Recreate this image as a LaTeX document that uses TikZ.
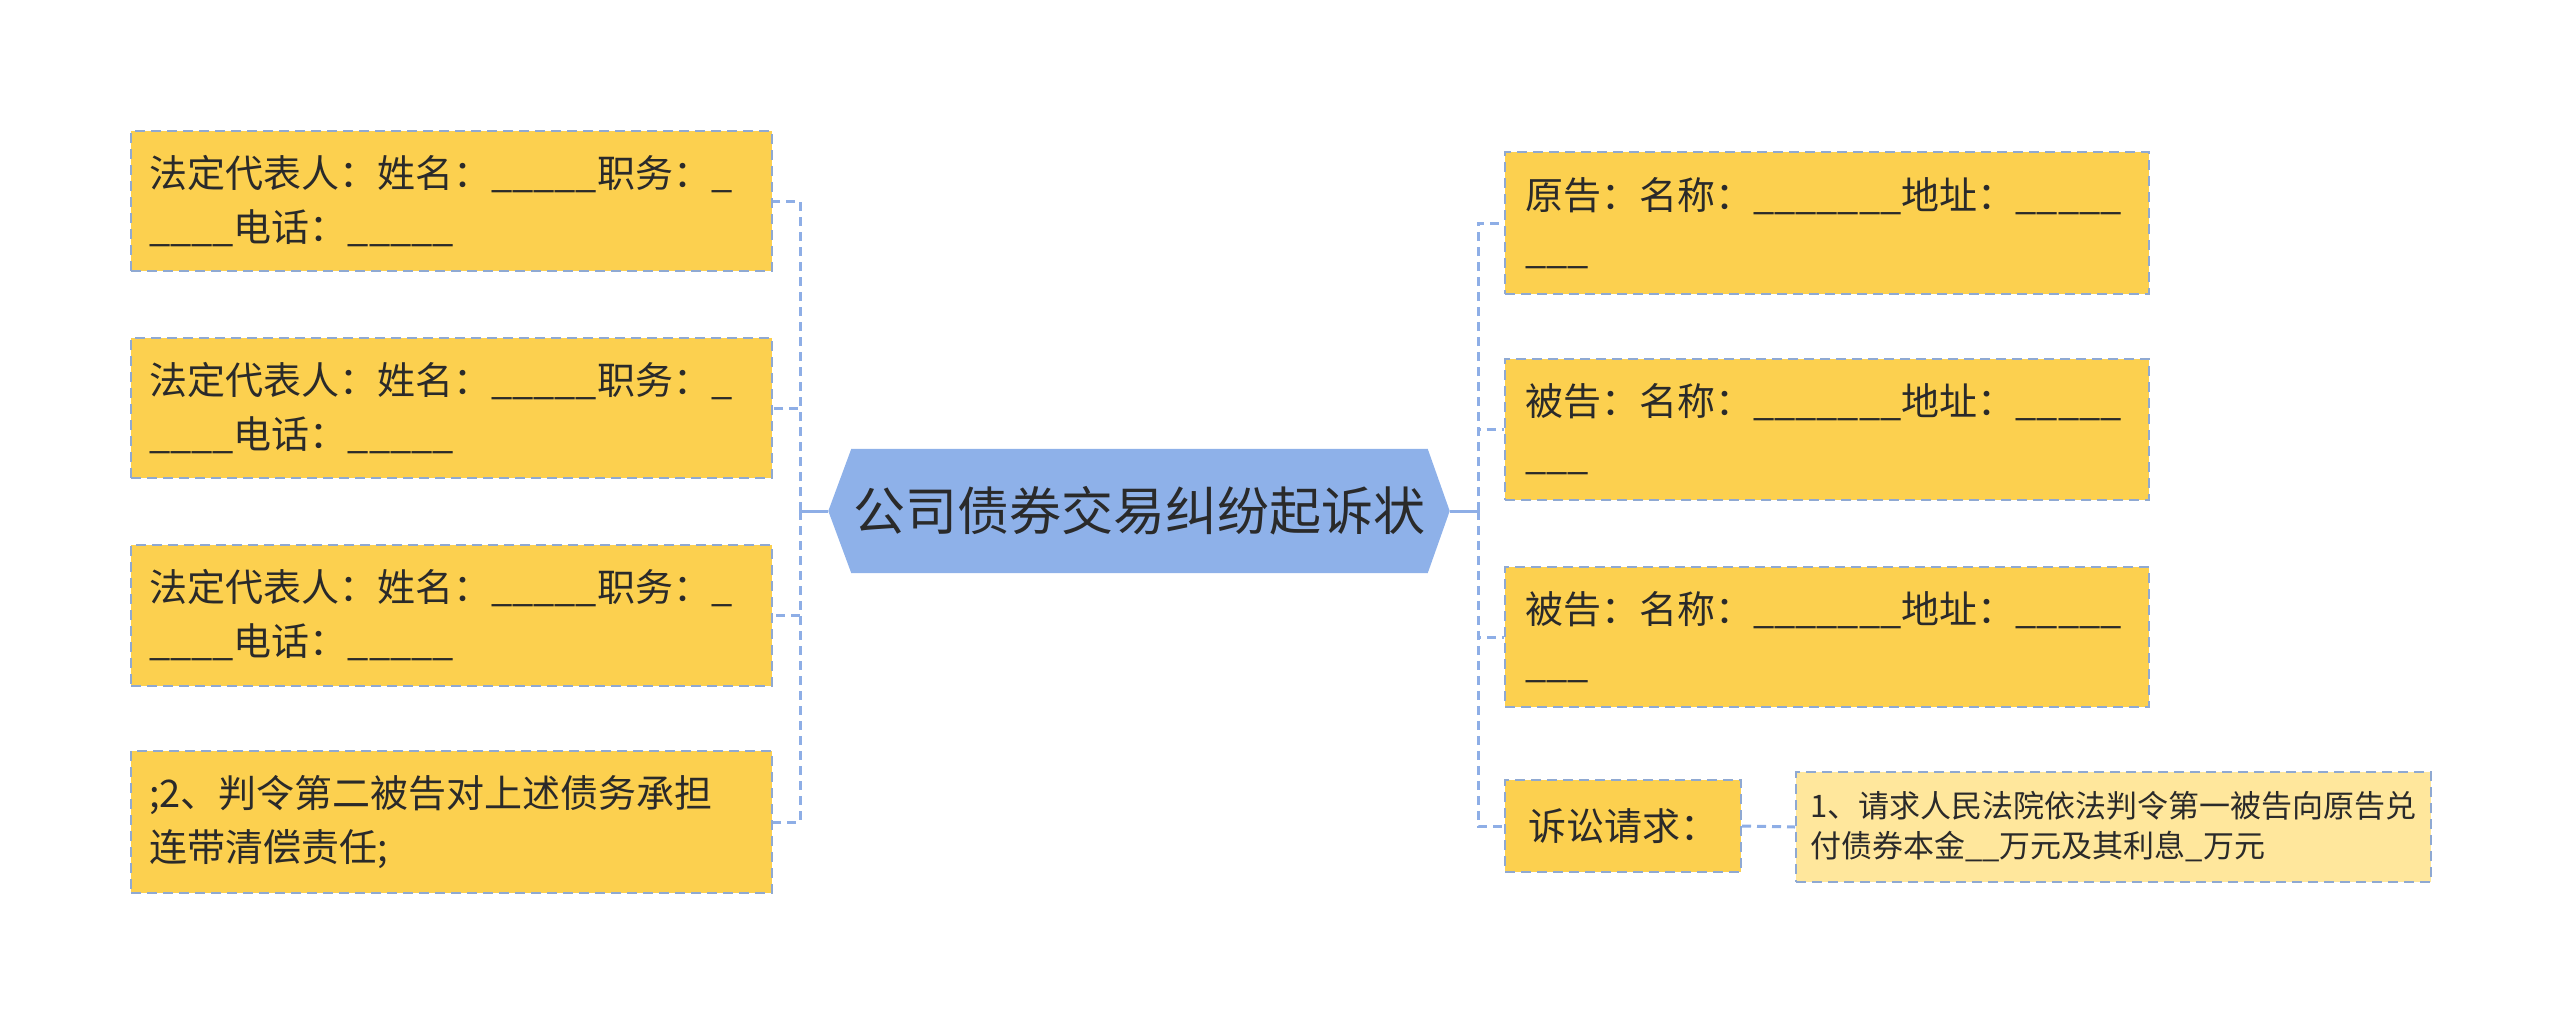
\documentclass[tikz,border=0pt]{standalone}
\usepackage{fontspec}
\newfontfamily\cjk{Noto Sans CJK SC}
\definecolor{boxfill}{HTML}{FCD04F}
\definecolor{childfill}{HTML}{FFE79C}
\definecolor{hexfill}{HTML}{8EB1E9}
\definecolor{boxline}{HTML}{8FA9D2}
\definecolor{connline}{HTML}{8EAEE6}
\definecolor{txt}{HTML}{2A2A2A}
\begin{document}
\begin{tikzpicture}[x=1pt,y=-1pt,
  box/.style={draw=boxline, fill=boxfill, line width=2pt, dash pattern=on 10pt off 6pt,
    inner xsep=0pt, inner ysep=0pt, align=left, text=txt,
    font=\cjk\fontsize{38}{54}\selectfont},
  childbox/.style={box, fill=childfill, font=\cjk\fontsize{31}{40}\selectfont},
  conn/.style={draw=connline, line width=3pt},
  dconn/.style={conn, dash pattern=on 9pt off 6pt}
]
\useasboundingbox (0,0) rectangle (2560,1023);

% central hexagon
\node[inner sep=0pt, minimum width=576, minimum height=124] (hex) at (1139.5,511) {};
\fill[hexfill] (hex.north west) -- (hex.north east)
  -- ([xshift=22pt]hex.east) -- (hex.south east)
  -- (hex.south west) -- ([xshift=-23pt]hex.west) -- cycle;
\node[text=txt, font=\cjk\fontsize{52}{60}\selectfont] (title) at (hex.center) {公司债券交易纠纷起诉状};

% left boxes
\node[box, minimum width=641, minimum height=140, text width=605] (L1) at (451.5,201)
  {法定代表人：姓名：\_\_\_\_\_职务：\_\\\_\_\_\_电话：\_\_\_\_\_};
\node[box, minimum width=641, minimum height=140, text width=605] (L2) at (451.5,408)
  {法定代表人：姓名：\_\_\_\_\_职务：\_\\\_\_\_\_电话：\_\_\_\_\_};
\node[box, minimum width=641, minimum height=141, text width=605] (L3) at (451.5,615.5)
  {法定代表人：姓名：\_\_\_\_\_职务：\_\\\_\_\_\_电话：\_\_\_\_\_};
\node[box, minimum width=641, minimum height=142, text width=605] (L4) at (451.5,822)
  {;2、判令第二被告对上述债务承担\\连带清偿责任;};

% right boxes
\node[box, minimum width=644, minimum height=142, text width=604] (R1) at (1827,223)
  {原告：名称：\_\_\_\_\_\_\_地址：\_\_\_\_\_\\\_\_\_};
\node[box, minimum width=644, minimum height=141, text width=604] (R2) at (1827,429.5)
  {被告：名称：\_\_\_\_\_\_\_地址：\_\_\_\_\_\\\_\_\_};
\node[box, minimum width=644, minimum height=140, text width=604] (R3) at (1827,637)
  {被告：名称：\_\_\_\_\_\_\_地址：\_\_\_\_\_\\\_\_\_};
\node[box, minimum width=236, minimum height=92, align=center] (R4) at (1623,826)
  {诉讼请求：};
\node[childbox, minimum width=635, minimum height=110, text width=607] (C1) at (2113.5,827)
  {1、请求人民法院依法判令第一被告向原告兑\\付债券本金\_\_万元及其利息\_万元};

% connectors left
\coordinate (lj) at (800,511);
\draw[conn] (hex.west) ++(-23pt,0) -- (lj);
\draw[dconn] (lj) |- (L1.east);
\draw[dconn] (lj) |- (L2.east);
\draw[dconn] (lj) |- (L3.east);
\draw[dconn] (lj) |- (L4.east);

% connectors right
\coordinate (rj) at (1478,511);
\draw[conn] (hex.east) ++(22pt,0) -- (rj);
\draw[dconn] (rj) |- (R1.west);
\draw[dconn] (rj) |- (R2.west);
\draw[dconn] (rj) |- (R3.west);
\draw[dconn] (rj) |- (R4.west);
\draw[dconn] (R4.east) -- (C1.west);
\end{tikzpicture}
\end{document}
